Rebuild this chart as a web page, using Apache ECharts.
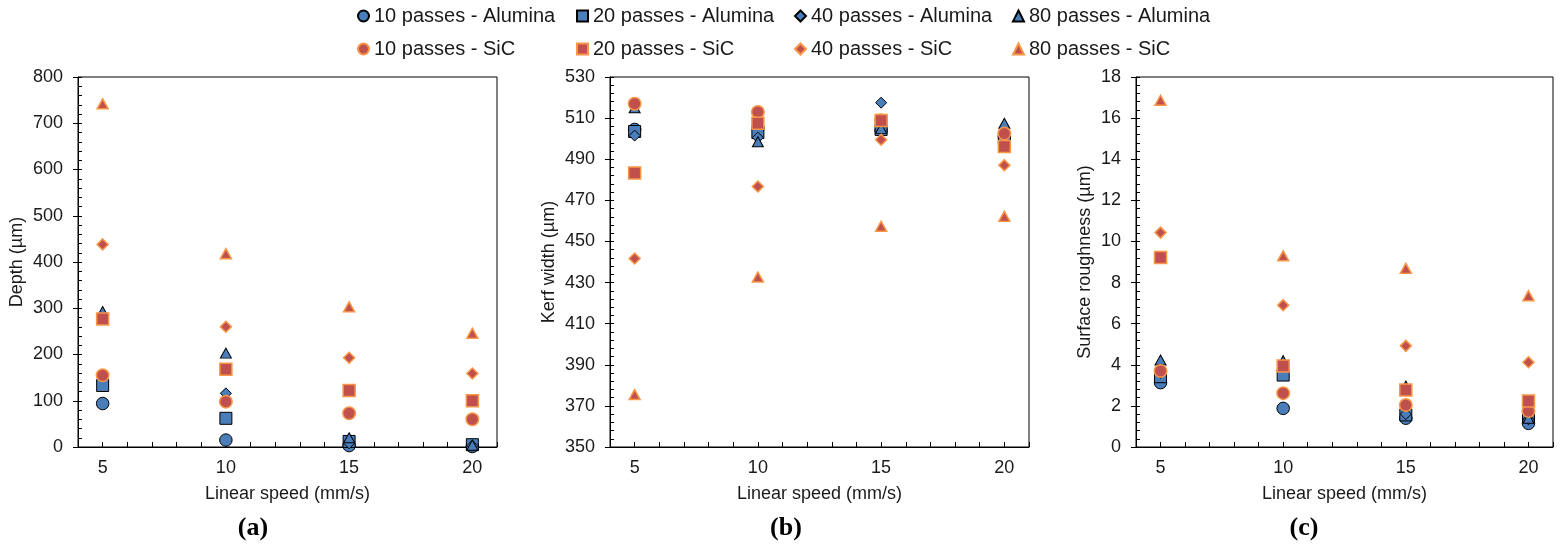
<!DOCTYPE html>
<html>
<head>
<meta charset="utf-8">
<script src="https://cdn.jsdelivr.net/npm/echarts@6/dist/echarts.min.js"></script>
<style>
  html, body { margin: 0; padding: 0; background: #fff; }
  #chart { width: 1564px; height: 544px; }
</style>
</head>
<body>
<div id="chart"></div>
<script>
// Linear speed (mm/s) — shared x values for every panel
const speeds = [5, 10, 15, 20];

const seriesNames = [
  '10 passes - Alumina', '20 passes - Alumina', '40 passes - Alumina', '80 passes - Alumina',
  '10 passes - SiC', '20 passes - SiC', '40 passes - SiC', '80 passes - SiC'
];

// (a) Depth (µm)
const depthAlumina10 = [94, 15, 3, 1];
const depthAlumina20 = [133, 62, 12, 5];
const depthAlumina40 = [278, 116, 8, 3];
const depthAlumina80 = [293, 203, 20, 4];
const depthSiC10 = [155, 98, 73, 60];
const depthSiC20 = [277, 168, 122, 100];
const depthSiC40 = [438, 260, 193, 159];
const depthSiC80 = [742, 418, 303, 246];

// (b) Kerf width (µm)
const kerfAlumina10 = [504.5, 505, 504, 501];
const kerfAlumina20 = [503.5, 503, 504.5, 500];
const kerfAlumina40 = [501.5, 500.5, 517.5, 503];
const kerfAlumina80 = [515, 498.5, 505, 507.5];
const kerfSiC10 = [517, 513, 509, 502.5];
const kerfSiC20 = [483.3, 507.5, 508.8, 496.2];
const kerfSiC40 = [441.7, 476.7, 499.5, 487.1];
const kerfSiC80 = [375.5, 432.7, 457.4, 462.2];

// (c) Surface roughness (µm)
const roughAlumina10 = [3.13, 1.88, 1.40, 1.15];
const roughAlumina20 = [3.42, 3.50, 1.56, 1.50];
const roughAlumina40 = [3.60, 4.10, 1.60, 1.35];
const roughAlumina80 = [4.23, 4.20, 2.97, 1.40];
const roughSiC10 = [3.70, 2.62, 2.04, 1.75];
const roughSiC20 = [9.22, 3.94, 2.77, 2.24];
const roughSiC40 = [10.43, 6.90, 4.92, 4.12];
const roughSiC80 = [16.87, 9.30, 8.69, 7.36];

// Y-axis tick settings per panel: [min, max, major step, minor step]
const depthTicks = [0, 800, 100, 20];
const kerfTicks = [350, 530, 20, 4];
const roughTicks = [0, 18, 2, 0.4];

const panelValues = [
  [depthAlumina10, depthAlumina20, depthAlumina40, depthAlumina80, depthSiC10, depthSiC20, depthSiC40, depthSiC80],
  [kerfAlumina10, kerfAlumina20, kerfAlumina40, kerfAlumina80, kerfSiC10, kerfSiC20, kerfSiC40, kerfSiC80],
  [roughAlumina10, roughAlumina20, roughAlumina40, roughAlumina80, roughSiC10, roughSiC20, roughSiC40, roughSiC80]
];
const panelTicks = [depthTicks, kerfTicks, roughTicks];
const panelYNames = ['Depth (µm)', 'Kerf width (µm)', 'Surface roughness (µm)'];
const panelLetters = ['(a)', '(b)', '(c)'];

const FONT = '"Liberation Sans", Arial, sans-serif';
const TEXT = '#1a1a1a';

const symbols = ['circle', 'rect', 'diamond', 'triangle'];
const symbolSizes = [12.5, 12, 11, [11, 10]];
const aluminaStyle = { color: '#4a7ebb', borderColor: '#000', borderWidth: 1, opacity: 1 };
const sicStyle = { color: '#c0504d', borderColor: '#f79646', borderWidth: 1.5, opacity: 1 };

const grids = [
  { left: 78, top: 77, width: 419, height: 370 },
  { left: 610, top: 77, width: 419, height: 370 },
  { left: 1136, top: 77, width: 417, height: 370 }
].map(g => Object.assign({ show: true, borderColor: '#000', borderWidth: 1, backgroundColor: 'transparent' }, g));

const yNameGaps = [52, 52, 42];

const xAxes = grids.map((g, i) => ({
  type: 'value', gridIndex: i, min: 4, max: 21, interval: 1,
  axisLine: { show: true, onZero: false, lineStyle: { color: '#000', width: 1 } },
  axisTick: { show: true, inside: true, length: 5, lineStyle: { color: '#000' } },
  axisLabel: {
    fontSize: 18, color: TEXT, fontFamily: FONT, margin: 12,
    formatter: v => (speeds.indexOf(v) >= 0 ? String(v) : '')
  },
  splitLine: { show: false },
  name: 'Linear speed (mm/s)', nameLocation: 'middle', nameGap: 38,
  nameTextStyle: { fontSize: 18, color: TEXT, fontFamily: FONT }
}));

const yAxesMain = grids.map((g, i) => ({
  type: 'value', gridIndex: i, position: 'left',
  min: panelTicks[i][0], max: panelTicks[i][1], interval: panelTicks[i][2],
  axisLine: { show: true, onZero: false, lineStyle: { color: '#000', width: 1 } },
  axisTick: { show: true, inside: false, length: 5, lineStyle: { color: '#000' } },
  axisLabel: { fontSize: 18, color: TEXT, fontFamily: FONT, margin: 15 },
  splitLine: { show: false },
  name: panelYNames[i], nameLocation: 'middle', nameGap: yNameGaps[i],
  nameTextStyle: { fontSize: 18, color: TEXT, fontFamily: FONT }
}));

// companion axes carrying the inward minor ticks
const yAxesMinor = grids.map((g, i) => ({
  type: 'value', gridIndex: i, position: 'left', offset: 0,
  min: panelTicks[i][0], max: panelTicks[i][1], interval: panelTicks[i][3],
  axisLine: { show: false },
  axisTick: { show: true, inside: true, length: 4, lineStyle: { color: '#000' } },
  axisLabel: { show: false },
  splitLine: { show: false }
}));

const series = [];
panelValues.forEach((values, p) => {
  values.forEach((vals, k) => {
    const isSiC = k >= 4;
    series.push({
      name: seriesNames[k],
      type: 'scatter',
      xAxisIndex: p,
      yAxisIndex: p,
      symbol: symbols[k % 4],
      symbolSize: symbolSizes[k % 4],
      itemStyle: isSiC ? sicStyle : aluminaStyle,
      emphasis: { disabled: true },
      data: speeds.map((s, j) => [s, vals[j]])
    });
  });
});

const legendLefts = [357, 576, 794, 1012];
const legendTops = [6, 39];
const legends = seriesNames.map((name, k) => ({
  data: [name],
  left: legendLefts[k % 4],
  top: legendTops[Math.floor(k / 4)],
  padding: 0,
  itemWidth: 11,
  itemHeight: 11,
  selectedMode: false,
  textStyle: { fontSize: 20, color: TEXT, fontFamily: FONT }
}));

const letterCenters = [253, 786, 1304];
const graphics = panelLetters.map((t, i) => ({
  type: 'text',
  x: letterCenters[i],
  y: 528,
  style: {
    text: t,
    font: 'bold 26px "Liberation Serif", "Times New Roman", serif',
    fill: '#000',
    textAlign: 'center', align: 'center',
    textVerticalAlign: 'middle', verticalAlign: 'middle'
  }
}));

const chart = echarts.init(document.getElementById('chart'), null, { renderer: 'canvas' });
chart.setOption({
  animation: false,
  backgroundColor: '#fff',
  grid: grids,
  xAxis: xAxes,
  yAxis: yAxesMain.concat(yAxesMinor),
  legend: legends,
  series: series,
  graphic: graphics
});
</script>
</body>
</html>
